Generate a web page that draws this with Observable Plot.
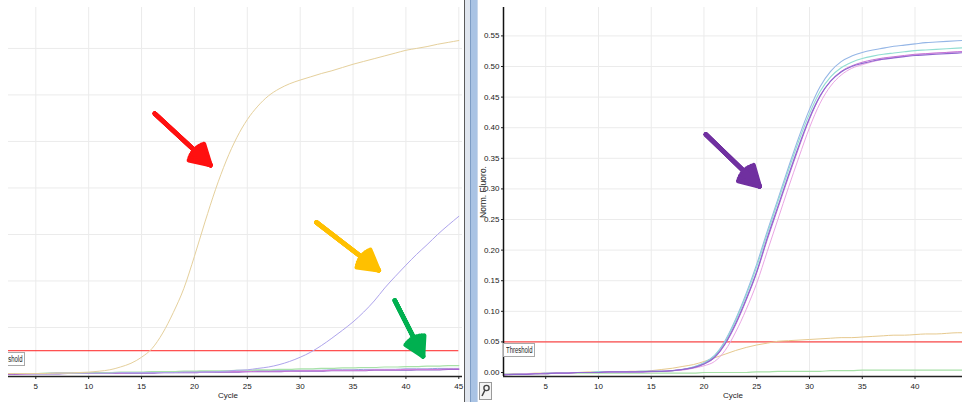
<!DOCTYPE html>
<html><head><meta charset="utf-8">
<script src="https://cdn.jsdelivr.net/npm/d3@7"></script>
<script src="https://cdn.jsdelivr.net/npm/@observablehq/plot@0.6"></script>
<style>
html,body{margin:0;padding:0;background:#fff;}
#wrap{position:relative;width:962px;height:402px;overflow:hidden;font-family:'Liberation Sans',Arial,sans-serif;}
#leftbox{position:absolute;left:8px;top:0;width:456px;height:402px;overflow:hidden;}
#leftbox > svg{position:absolute;left:-15px;top:0;max-width:none;}
#rightbox{position:absolute;left:478px;top:0;width:484px;height:402px;overflow:hidden;}
#rightbox > svg{position:absolute;left:0;top:0;max-width:none;}
.thr{position:absolute;width:32px;height:14px;border:1px solid #a8a8a8;background:#fff;color:#222;white-space:nowrap;box-sizing:border-box;overflow:hidden;}
.thr span{position:absolute;left:2px;top:0;font-size:8.5px;line-height:12px;transform:scaleX(0.7);transform-origin:0 0;}
#split{position:absolute;left:464px;top:0;width:14px;height:402px;}
#split div{position:absolute;top:0;height:402px;}
#wrench{position:absolute;left:479px;top:382px;width:13px;height:18px;border:1px solid #9a9a9a;background:#f4f4f4;box-sizing:border-box;}
</style></head>
<body>
<div id="wrap">
  <div id="leftbox"></div>
  <div id="split">
    <div style="left:0;width:1px;background:#5a5a5a"></div>
    <div style="left:1px;width:5px;background:#dfe5ee"></div>
    <div style="left:6px;width:1px;background:#7d9cc4"></div>
    <div style="left:7px;width:6px;background:#a9c3e4"></div>
    <div style="left:13px;width:1px;background:#c9d8ec"></div>
  </div>
  <div id="rightbox"></div>
  <div id="wrench"><svg width="11" height="16" viewBox="0 0 11 16"><circle cx="6.5" cy="5" r="2.6" fill="none" stroke="#444" stroke-width="1.4"/><line x1="5" y1="7" x2="2" y2="13" stroke="#444" stroke-width="1.6"/></svg></div>
</div>
<script>
// ---------- data ----------
const cycles = d3.range(1, 46);
const xTicks = [5, 10, 15, 20, 25, 30, 35, 40, 45];
const threshold = 0.05;
const thresholdLabel = "Threshold";
const xLabel = "Cycle";
const yLabel = "Norm. Fluoro.";

// left panel (Norm. Fluoro.)
const leftTan = [0.001,0.001,0.001,0.001,0.001,0.001,0.002,0.002,0.003,0.004,0.006,0.009,0.015,0.023,0.036,0.055,0.088,0.132,0.184,0.253,0.327,0.397,0.458,0.508,0.547,0.576,0.598,0.613,0.624,0.632,0.639,0.646,0.652,0.659,0.666,0.672,0.678,0.684,0.690,0.696,0.700,0.704,0.709,0.713,0.717];
const leftLavender = [0.001,0.001,0.001,0.001,0.001,0.001,0.002,0.002,0.002,0.002,0.002,0.002,0.003,0.003,0.003,0.003,0.003,0.003,0.004,0.004,0.004,0.005,0.006,0.008,0.009,0.012,0.015,0.020,0.027,0.036,0.047,0.061,0.077,0.094,0.112,0.133,0.157,0.185,0.210,0.234,0.257,0.278,0.300,0.320,0.339];
const leftGreen = [0.001,0.001,0.001,0.001,0.001,0.002,0.002,0.002,0.002,0.003,0.003,0.003,0.004,0.004,0.004,0.005,0.005,0.005,0.006,0.006,0.007,0.007,0.007,0.008,0.008,0.009,0.009,0.010,0.010,0.011,0.011,0.012,0.012,0.013,0.013,0.014,0.014,0.015,0.015,0.016,0.016,0.017,0.017,0.018,0.018];
const leftPink = [0.000,0.000,0.000,0.000,0.001,0.001,0.001,0.001,0.001,0.002,0.002,0.002,0.002,0.003,0.003,0.003,0.003,0.004,0.004,0.004,0.004,0.005,0.005,0.005,0.005,0.006,0.006,0.006,0.006,0.007,0.007,0.007,0.008,0.008,0.008,0.008,0.009,0.009,0.009,0.010,0.010,0.010,0.010,0.011,0.011];
const leftBlue = [0.001,0.001,0.001,0.001,0.001,0.001,0.002,0.002,0.002,0.002,0.002,0.003,0.003,0.003,0.003,0.004,0.004,0.004,0.004,0.005,0.005,0.005,0.006,0.006,0.006,0.007,0.007,0.007,0.007,0.008,0.008,0.008,0.009,0.009,0.009,0.010,0.010,0.010,0.010,0.011,0.011,0.011,0.012,0.012,0.012];
const leftPurple = [-0.001,-0.001,-0.001,0.000,0.000,0.000,0.000,0.001,0.001,0.001,0.001,0.001,0.002,0.002,0.002,0.002,0.003,0.003,0.003,0.003,0.004,0.004,0.004,0.004,0.005,0.005,0.005,0.005,0.006,0.006,0.006,0.006,0.007,0.007,0.007,0.007,0.008,0.008,0.008,0.008,0.009,0.009,0.009,0.010,0.010];

// right panel
const rightPurple = [-0.004,-0.003,-0.003,-0.002,-0.002,-0.001,-0.001,0.000,0.000,0.000,0.001,0.001,0.001,0.001,0.002,0.002,0.003,0.005,0.008,0.014,0.025,0.047,0.080,0.120,0.165,0.220,0.271,0.322,0.371,0.416,0.452,0.476,0.491,0.500,0.505,0.509,0.512,0.514,0.516,0.518,0.519,0.520,0.521,0.522,0.523];
const rightBlue = [-0.003,-0.003,-0.002,-0.002,-0.001,-0.001,0.000,0.000,0.000,0.001,0.001,0.001,0.001,0.002,0.002,0.002,0.003,0.005,0.009,0.016,0.028,0.052,0.087,0.129,0.177,0.231,0.283,0.335,0.385,0.430,0.467,0.492,0.508,0.517,0.523,0.527,0.530,0.533,0.535,0.537,0.539,0.540,0.541,0.542,0.543];
const rightTeal = [-0.003,-0.003,-0.002,-0.002,-0.001,-0.001,0.000,0.000,0.000,0.001,0.001,0.001,0.001,0.002,0.002,0.002,0.003,0.005,0.009,0.015,0.027,0.050,0.085,0.126,0.173,0.227,0.279,0.330,0.379,0.423,0.459,0.483,0.498,0.507,0.513,0.517,0.520,0.522,0.524,0.526,0.527,0.528,0.529,0.530,0.531];
const rightMagenta = [-0.004,-0.003,-0.003,-0.002,-0.002,-0.001,-0.001,0.000,0.000,0.000,0.001,0.001,0.001,0.001,0.002,0.002,0.003,0.005,0.008,0.014,0.024,0.046,0.078,0.118,0.163,0.217,0.268,0.319,0.368,0.414,0.451,0.476,0.492,0.501,0.507,0.511,0.514,0.516,0.518,0.520,0.521,0.522,0.523,0.524,0.525];
const rightPink = [-0.003,-0.003,-0.002,-0.002,-0.001,-0.001,-0.001,0.000,0.000,0.000,0.001,0.001,0.001,0.001,0.001,0.002,0.003,0.004,0.007,0.011,0.018,0.036,0.066,0.103,0.146,0.198,0.250,0.302,0.352,0.400,0.440,0.468,0.486,0.497,0.503,0.508,0.512,0.515,0.517,0.519,0.521,0.522,0.523,0.524,0.525];
const rightTan = [-0.003,-0.002,-0.002,-0.001,-0.001,0.000,0.000,0.000,0.001,0.001,0.001,0.001,0.002,0.002,0.003,0.005,0.007,0.010,0.013,0.018,0.024,0.030,0.036,0.041,0.045,0.048,0.051,0.052,0.053,0.054,0.055,0.056,0.057,0.057,0.058,0.059,0.060,0.061,0.061,0.062,0.063,0.063,0.064,0.065,0.065];
const rightGreen = [-0.003,-0.003,-0.002,-0.002,-0.002,-0.001,-0.001,-0.001,-0.001,-0.001,-0.001,-0.001,-0.001,-0.001,-0.001,-0.001,-0.001,-0.001,-0.001,0.000,0.000,0.000,0.000,0.000,0.001,0.001,0.002,0.002,0.002,0.002,0.002,0.003,0.003,0.003,0.004,0.004,0.004,0.004,0.004,0.004,0.004,0.004,0.004,0.004,0.004];

// axes
const xDomainLeft = [1, 45.35];
const yDomainLeft = [-0.0054, 0.788];
const yGridLeft = [0.1, 0.2, 0.3, 0.4, 0.5, 0.6, 0.7];
const xDomainRight = [1, 44.5];
const yDomainRight = [-0.0065, 0.5964];
const yTicksRight = [0, 0.05, 0.1, 0.15, 0.2, 0.25, 0.3, 0.35, 0.4, 0.45, 0.5, 0.55];

// annotation arrows (data coordinates)
const arrowsLeft = [
  {x1: 16.25, y1: 0.560, x2: 21.52, y2: 0.449, color: "#ff1010"},
  {x1: 31.54, y1: 0.326, x2: 37.43, y2: 0.223, color: "#ffc000"},
  {x1: 38.95, y1: 0.158, x2: 41.62, y2: 0.038, color: "#00b050"}
];
const arrowsRight = [
  {x1: 20.17, y1: 0.389, x2: 25.28, y2: 0.304, color: "#7030a0"}
];

const seriesLeft = [
  {values: leftPurple, color: "#8e62c8", w: 1.2},
  {values: leftBlue, color: "#8aa6e0", w: 1},
  {values: leftPink, color: "#d77ad8", w: 1},
  {values: leftGreen, color: "#a8e2a8", w: 1.2},
  {values: leftLavender, color: "#aea4ec", w: 1},
  {values: leftTan, color: "#e5d09c", w: 1}
];
const seriesRight = [
  {values: rightGreen, color: "#a6e0a6", w: 1.2},
  {values: rightTan, color: "#e6c98e", w: 1},
  {values: rightBlue, color: "#95b6e6", w: 1.1},
  {values: rightTeal, color: "#92ded2", w: 1.1},
  {values: rightPink, color: "#eaa6e4", w: 1},
  {values: rightMagenta, color: "#c676d6", w: 1},
  {values: rightPurple, color: "#9068d0", w: 1.2}
];

// ---------- helpers ----------
const font = "'Liberation Sans', Arial, sans-serif";
const gridColor = "#ebebeb";
const headAngles = [60, 46, 32, 18, 6];

function lineMarks(series) {
  return series.map(s => Plot.line(cycles.map((c, i) => ({cycle: c, v: s.values[i]})),
    {x: "cycle", y: "v", stroke: s.color, strokeWidth: s.w, curve: "monotone-x"}));
}
function arrowMarks(arrs) {
  return headAngles.map(a => Plot.arrow(arrs, {x1: "x1", y1: "y1", x2: "x2", y2: "y2",
    stroke: d => d.color, strokeWidth: 4.5, headAngle: a, headLength: 7.4}));
}
const xTitle = Plot.text([xLabel], {text: d => d, frameAnchor: "bottom", dy: 21, fill: "#222"});

// ---------- left panel ----------
const left = Plot.plot({
  width: 473, height: 402,
  marginLeft: 0, marginRight: 4, marginTop: 7, marginBottom: 26,
  style: {fontFamily: font, fontSize: "8px", color: "#222", background: "transparent"},
  x: {domain: xDomainLeft, ticks: xTicks, tickSize: 3, tickPadding: 4, label: null},
  y: {domain: yDomainLeft, axis: null},
  marks: [
    Plot.ruleX(xTicks, {stroke: gridColor}),
    Plot.ruleY(yGridLeft, {stroke: gridColor}),
    Plot.ruleY([threshold], {stroke: "#ff2020", x1: xDomainLeft[0], x2: cycles[cycles.length - 1]}),
    ...lineMarks(seriesLeft),
    ...arrowMarks(arrowsLeft),
    Plot.ruleY([yDomainLeft[0]], {stroke: "#222", strokeWidth: 1.5}),
    xTitle
  ]
});
document.getElementById("leftbox").appendChild(left);

// ---------- right panel ----------
const xTicksRight = xTicks.filter(t => t < xDomainRight[1]);
const right = Plot.plot({
  width: 484, height: 402,
  marginLeft: 25, marginRight: 0, marginTop: 7, marginBottom: 26,
  style: {fontFamily: font, fontSize: "8px", color: "#222", background: "transparent"},
  x: {domain: xDomainRight, ticks: xTicksRight, tickSize: 3, tickPadding: 4, label: null},
  y: {domain: yDomainRight, ticks: yTicksRight, tickFormat: ".2f", tickSize: 2, tickPadding: 2, label: null},
  marks: [
    Plot.ruleX(xTicksRight, {stroke: gridColor}),
    Plot.ruleY(yTicksRight.slice(1), {stroke: gridColor}),
    Plot.ruleY([threshold], {stroke: "#ff2020"}),
    ...lineMarks(seriesRight),
    ...arrowMarks(arrowsRight),
    Plot.ruleY([yDomainRight[0]], {stroke: "#222", strokeWidth: 1.5}),
    Plot.ruleX([xDomainRight[0]], {stroke: "#111", strokeWidth: 1.5}),
    xTitle,
    Plot.text([yLabel], {text: d => d, frameAnchor: "left", textAnchor: "middle", rotate: -90, dx: -20, fontSize: 8.5, fill: "#222"})
  ]
});
document.getElementById("rightbox").appendChild(right);

// ---------- threshold labels ----------
function addLabel(box, plot, leftPx) {
  const yPx = plot.scale("y").apply(threshold);
  const d = document.createElement("div");
  d.className = "thr";
  const s = document.createElement("span");
  s.textContent = thresholdLabel;
  d.appendChild(s);
  d.style.left = leftPx + "px";
  d.style.top = (yPx + 1.5) + "px";
  box.appendChild(d);
}
addLabel(document.getElementById("leftbox"), left, -15);
addLabel(document.getElementById("rightbox"), right, 25);
</script>
</body></html>
